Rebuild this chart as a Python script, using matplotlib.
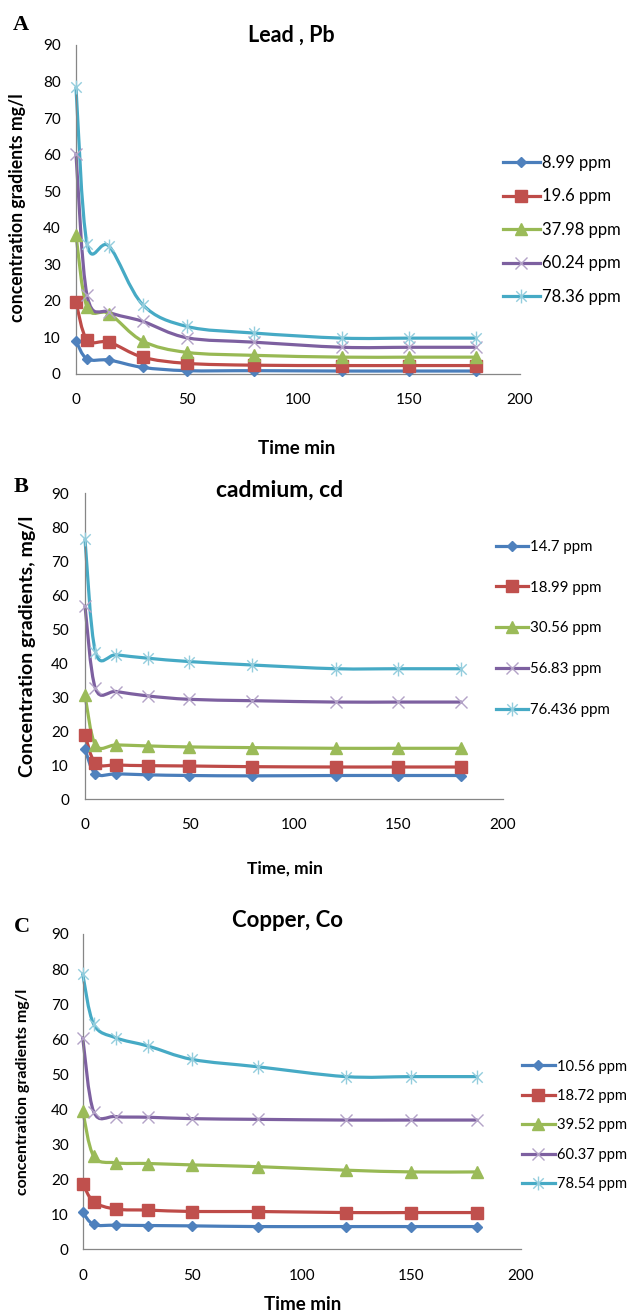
import numpy as np
import matplotlib
matplotlib.use('Agg')
import matplotlib.pyplot as plt
from matplotlib.path import Path
from matplotlib.patches import PathPatch
from matplotlib.lines import Line2D

plt.rcParams['font.family'] = ['Lato', 'DejaVu Sans']

# sampling times (min)
time_min = [0, 5, 15, 30, 50, 80, 120, 150, 180]

# Lead, Pb (mg/l)
lead_labels = ['8.99 ppm', '19.6 ppm', '37.98 ppm', '60.24 ppm', '78.36 ppm']
lead_899 = [8.99, 4.1, 3.8, 1.8, 0.9, 0.9, 0.8, 0.8, 0.8]
lead_196 = [19.6, 9.3, 8.7, 4.6, 2.9, 2.4, 2.3, 2.3, 2.3]
lead_3798 = [37.98, 18.3, 16.5, 9.0, 5.9, 5.1, 4.6, 4.6, 4.6]
lead_6024 = [60.24, 21.5, 16.9, 14.4, 9.9, 8.7, 7.3, 7.3, 7.3]
lead_7836 = [78.36, 35.6, 34.9, 19.0, 13.0, 11.2, 9.8, 9.8, 9.8]

# Cadmium, Cd (mg/l)
cd_labels = ['14.7 ppm', '18.99 ppm', '30.56 ppm', '56.83 ppm', '76.436 ppm']
cd_147 = [14.7, 7.5, 7.5, 7.2, 7.0, 6.9, 7.0, 7.0, 7.0]
cd_1899 = [18.99, 10.6, 10.1, 9.9, 9.8, 9.6, 9.5, 9.5, 9.5]
cd_3056 = [30.56, 16.0, 16.0, 15.7, 15.4, 15.2, 15.0, 15.0, 15.0]
cd_5683 = [56.83, 32.6, 31.7, 30.4, 29.4, 29.0, 28.6, 28.6, 28.6]
cd_76436 = [76.436, 43.4, 42.5, 41.5, 40.5, 39.5, 38.4, 38.4, 38.4]

# Copper, Co (mg/l)
cu_labels = ['10.56 ppm', '18.72 ppm', '39.52 ppm', '60.37 ppm', '78.54 ppm']
cu_1056 = [10.56, 7.1, 6.9, 6.8, 6.7, 6.5, 6.5, 6.5, 6.5]
cu_1872 = [18.72, 13.6, 11.5, 11.2, 10.8, 10.8, 10.5, 10.5, 10.5]
cu_3952 = [39.52, 26.6, 24.7, 24.5, 24.1, 23.6, 22.6, 22.1, 22.1]
cu_6037 = [60.37, 39.3, 37.9, 37.7, 37.3, 37.1, 36.9, 36.9, 36.9]
cu_7854 = [78.54, 64.3, 60.4, 58.0, 54.2, 52.1, 49.3, 49.3, 49.3]

# asterisk marker: an x with a vertical bar through it
asterisk = Path([[-0.75, -0.75], [0.75, 0.75], [-0.75, 0.75], [0.75, -0.75], [0, -1], [0, 1]],
                [Path.MOVETO, Path.LINETO] * 3)

styles = [
    dict(color='#4A7EBB', marker='D', ms=5.5, mfc='#4F81BD', mec='#4F81BD', mew=1),
    dict(color='#BE4B48', marker='s', ms=8, mfc='#C0504D', mec='#C0504D', mew=1),
    dict(color='#98B954', marker='^', ms=8.5, mfc='#9BBB59', mec='#9BBB59', mew=1),
    dict(color='#7D60A0', marker='x', ms=9, mfc='none', mec='#B3A2C7', mew=1),
    dict(color='#46AAC5', marker=asterisk, ms=10, mfc='none', mec='#93CDDD', mew=1),
]


def smooth_path(x, y):
    # cubic Bezier through every point (Catmull-Rom style control points)
    pts = np.column_stack([x, y]).astype(float)
    n = len(pts)
    verts = [pts[0]]
    codes = [Path.MOVETO]
    for i in range(n - 1):
        p0 = pts[max(i - 1, 0)]
        p1 = pts[i]
        p2 = pts[i + 1]
        p3 = pts[min(i + 2, n - 1)]
        verts += [p1 + (p2 - p0) / 6, p2 - (p3 - p1) / 6, p2]
        codes += [Path.CURVE4] * 3
    return Path(verts, codes)


def draw_panel(ax, series, labels, tick_size, xpad, ypad, leg_anchor, leg_size, leg_spacing, handle_len):
    handles = []
    for y, st in zip(series, styles):
        ax.add_patch(PathPatch(smooth_path(time_min, y), fill=False, edgecolor=st['color'],
                               lw=2.3, capstyle='round', joinstyle='round', clip_on=False))
        ax.plot(time_min, y, linestyle='none', marker=st['marker'], ms=st['ms'],
                mfc=st['mfc'], mec=st['mec'], mew=st['mew'], clip_on=False, zorder=3)
        handles.append(Line2D([], [], color=st['color'], lw=2.3, marker=st['marker'], ms=st['ms'],
                              mfc=st['mfc'], mec=st['mec'], mew=st['mew']))
    ax.set_xlim(0, 200)
    ax.set_ylim(0, 90)
    ax.set_xticks(np.arange(0, 201, 50))
    ax.set_yticks(np.arange(0, 91, 10))
    for side in ['top', 'right']:
        ax.spines[side].set_visible(False)
    for side in ['left', 'bottom']:
        ax.spines[side].set_color('#868686')
        ax.spines[side].set_linewidth(0.9)
    ax.tick_params(axis='x', length=0, pad=xpad, labelsize=tick_size)
    ax.tick_params(axis='y', length=0, pad=ypad, labelsize=tick_size)
    ax.legend(handles, labels, loc='center left', bbox_to_anchor=leg_anchor,
              bbox_transform=fig.transFigure, frameon=False, fontsize=leg_size,
              labelspacing=leg_spacing, handlelength=handle_len, handletextpad=0.17,
              borderpad=0, borderaxespad=0, numpoints=1)


fig = plt.figure(figsize=(6.31, 13.14), dpi=100)

ax_a = fig.add_axes([0.1204, 0.7154, 0.7036, 0.2504])
ax_b = fig.add_axes([0.1347, 0.3917, 0.6624, 0.2329])
ax_c = fig.add_axes([0.1311, 0.0492, 0.6941, 0.2400])

draw_panel(ax_a, [lead_899, lead_196, lead_3798, lead_6024, lead_7836], lead_labels,
           11, 14, 11, (0.797, 0.825), 12, 1.05, 2.2)
draw_panel(ax_b, [cd_147, cd_1899, cd_3056, cd_5683, cd_76436], cd_labels,
           11, 13.5, 11.5, (0.786, 0.5217), 10.8, 1.79, 2.13)
draw_panel(ax_c, [cu_1056, cu_1872, cu_3952, cu_6037, cu_7854], cu_labels,
           11, 14, 10, (0.8273, 0.1435), 10.6, 1.05, 2.22)

# panel letters
for letter, x, y in [('A', 0.033, 0.981), ('B', 0.033, 0.6294), ('C', 0.035, 0.2945)]:
    fig.text(x, y, letter, family='Liberation Serif', weight='bold', fontsize=16,
             ha='center', va='center')

# titles
fig.text(0.461, 0.9734, 'Lead , Pb', weight='bold', fontsize=15.5, ha='center', va='center')
fig.text(0.4437, 0.627, 'cadmium, cd', weight='bold', fontsize=16.5, ha='center', va='center')
fig.text(0.4556, 0.2998, 'Copper, Co', weight='bold', fontsize=16, ha='center', va='center')

# axis labels
fig.text(0.0285, 0.8417, 'concentration gradients mg/l', weight='bold', fontsize=12.7,
         rotation=90, ha='center', va='center')
fig.text(0.4707, 0.6583, 'Time min', weight='bold', fontsize=13.5, ha='center', va='center')
fig.text(0.0428, 0.5084, 'Concentration gradients, mg/l', weight='bold', fontsize=14,
         rotation=90, ha='center', va='center')
fig.text(0.452, 0.3394, 'Time, min', weight='bold', fontsize=12.5, ha='center', va='center')
fig.text(0.0365, 0.169, 'concentration gradients mg/l', weight='bold', fontsize=11.5,
         rotation=90, ha='center', va='center')
fig.text(0.4802, 0.0069, 'Time min', weight='bold', fontsize=13.5, ha='center', va='center')

fig.savefig('out.png', dpi=100, facecolor='white')
